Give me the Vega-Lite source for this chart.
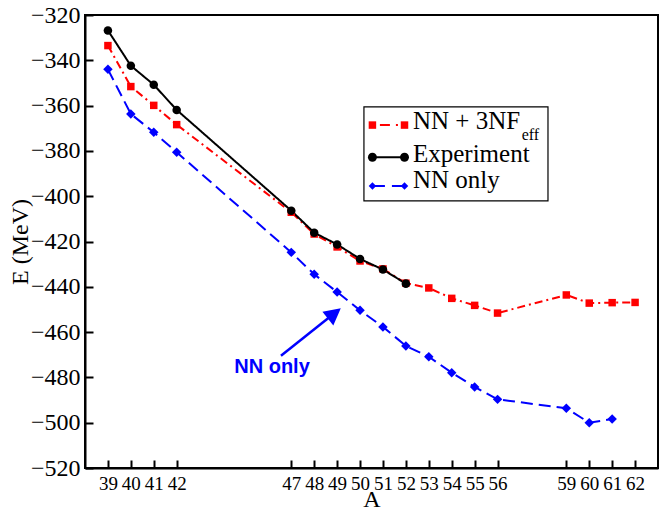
{
  "$schema": "https://vega.github.io/schema/vega-lite/v6.json",
  "width": 573,
  "height": 453,
  "autosize": {"type": "none"},
  "padding": {"left": 85, "top": 15, "right": 1, "bottom": 43},
  "background": "white",
  "config": {"view": {"stroke": null}},
  "data": {"values": [
    {"series": "NN only", "A": 39, "E": -344.0},
    {"series": "NN only", "A": 40, "E": -363.7},
    {"series": "NN only", "A": 41, "E": -371.8},
    {"series": "NN only", "A": 42, "E": -380.6},
    {"series": "NN only", "A": 47, "E": -424.8},
    {"series": "NN only", "A": 48, "E": -434.5},
    {"series": "NN only", "A": 49, "E": -442.3},
    {"series": "NN only", "A": 50, "E": -450.4},
    {"series": "NN only", "A": 51, "E": -457.7},
    {"series": "NN only", "A": 52, "E": -466.1},
    {"series": "NN only", "A": 53, "E": -470.9},
    {"series": "NN only", "A": 54, "E": -477.9},
    {"series": "NN only", "A": 55, "E": -484.2},
    {"series": "NN only", "A": 56, "E": -489.7},
    {"series": "NN only", "A": 59, "E": -493.6},
    {"series": "NN only", "A": 60, "E": -500.0},
    {"series": "NN only", "A": 61, "E": -498.4},
    {"series": "NN + 3NF", "A": 39, "E": -333.5},
    {"series": "NN + 3NF", "A": 40, "E": -351.6},
    {"series": "NN + 3NF", "A": 41, "E": -359.9},
    {"series": "NN + 3NF", "A": 42, "E": -368.4},
    {"series": "NN + 3NF", "A": 47, "E": -407.1},
    {"series": "NN + 3NF", "A": 48, "E": -416.7},
    {"series": "NN + 3NF", "A": 49, "E": -422.4},
    {"series": "NN + 3NF", "A": 50, "E": -428.6},
    {"series": "NN + 3NF", "A": 51, "E": -432.1},
    {"series": "NN + 3NF", "A": 52, "E": -438.4},
    {"series": "NN + 3NF", "A": 53, "E": -440.5},
    {"series": "NN + 3NF", "A": 54, "E": -445.1},
    {"series": "NN + 3NF", "A": 55, "E": -448.2},
    {"series": "NN + 3NF", "A": 56, "E": -451.6},
    {"series": "NN + 3NF", "A": 59, "E": -443.6},
    {"series": "NN + 3NF", "A": 60, "E": -447.2},
    {"series": "NN + 3NF", "A": 61, "E": -447.0},
    {"series": "NN + 3NF", "A": 62, "E": -446.9},
    {"series": "Experiment", "A": 39, "E": -326.8},
    {"series": "Experiment", "A": 40, "E": -342.4},
    {"series": "Experiment", "A": 41, "E": -350.8},
    {"series": "Experiment", "A": 42, "E": -361.9},
    {"series": "Experiment", "A": 47, "E": -406.4},
    {"series": "Experiment", "A": 48, "E": -416.1},
    {"series": "Experiment", "A": 49, "E": -421.3},
    {"series": "Experiment", "A": 50, "E": -427.7},
    {"series": "Experiment", "A": 51, "E": -432.4},
    {"series": "Experiment", "A": 52, "E": -438.6}
  ]},
  "resolve": {"axis": {"x": "independent", "y": "independent"}},
  "layer": [
    {
      "mark": {"type": "line", "strokeWidth": 2},
      "encoding": {
        "x": {"field": "A", "type": "quantitative",
          "scale": {"domain": [38, 63], "nice": false, "zero": false},
          "axis": {"orient": "bottom", "title": "A",
            "values": [39,40,41,42,47,48,49,50,51,52,53,54,55,56,59,60,61,62],
            "grid": false, "tickSize": -8, "tickWidth": 2, "tickColor": "black",
            "domainColor": "black", "domainWidth": 2,
            "labelFont": "Liberation Serif", "labelFontSize": 19, "labelColor": "black",
            "labelPadding": 14, "labelOverlap": false, "labelFlush": false, "labelBound": false,
            "titleFont": "Liberation Serif", "titleFontSize": 24, "titleFontWeight": "normal",
            "titleColor": "black", "titleY": 38, "titleBaseline": "alphabetic"}},
        "y": {"field": "E", "type": "quantitative",
          "scale": {"domain": [-520, -320], "nice": false, "zero": false},
          "axis": {"orient": "left", "title": "E (MeV)",
            "values": [-520, -500, -480, -460, -440, -420, -400, -380, -360, -340, -320],
            "format": "d",
            "tickSize": -8, "tickWidth": 2,
            "grid": false, "tickColor": "black",
            "domainColor": "black", "domainWidth": 2,
            "labelFont": "Liberation Serif", "labelFontSize": 24, "labelColor": "black",
            "labelPadding": 13, "labelOverlap": false, "labelFlush": false, "labelBound": false,
            "titleFont": "Liberation Serif", "titleFontSize": 24, "titleFontWeight": "normal",
            "titleColor": "black", "titleX": -58, "titleBaseline": "alphabetic"}},
        "stroke": {"field": "series", "type": "nominal",
          "scale": {"domain": ["NN + 3NF", "Experiment", "NN only"], "range": ["#ff0000", "#000000", "#0000ff"]},
          "legend": null},
        "strokeDash": {"field": "series", "type": "nominal",
          "scale": {"domain": ["NN + 3NF", "Experiment", "NN only"], "range": [[8, 4, 2, 4], [1, 0], [12, 6]]},
          "legend": null}
      }
    },
    {
      "mark": {"type": "point", "filled": true, "opacity": 1},
      "encoding": {
        "x": {"field": "A", "type": "quantitative", "axis": null},
        "y": {"field": "E", "type": "quantitative", "axis": null},
        "color": {"field": "series", "type": "nominal",
          "scale": {"domain": ["NN + 3NF", "Experiment", "NN only"], "range": ["#ff0000", "#000000", "#0000ff"]},
          "legend": null},
        "size": {"field": "series", "type": "nominal",
          "scale": {"domain": ["NN + 3NF", "Experiment", "NN only"], "range": [56, 90, 64]},
          "legend": null},
        "shape": {"field": "series", "type": "nominal",
          "scale": {"domain": ["NN + 3NF", "Experiment", "NN only"], "range": ["square", "circle", "diamond"]},
          "legend": null}
      }
    },
    {
      "data": {"values": [{}]},
      "mark": {"type": "rect", "fillOpacity": 0, "stroke": "black", "strokeWidth": 2},
      "encoding": {
        "x": {"datum": 38, "type": "quantitative", "axis": null},
        "x2": {"datum": 63},
        "y": {"datum": -520, "type": "quantitative", "axis": null},
        "y2": {"datum": -320}
      }
    },
    {
      "data": {"values": [{}]},
      "mark": {"type": "rect", "fill": "white", "stroke": "black", "strokeWidth": 1.2},
      "encoding": {
        "x": {"datum": 50.17, "type": "quantitative", "axis": null},
        "x2": {"datum": 58.2},
        "y": {"datum": -360.6, "type": "quantitative", "axis": null},
        "y2": {"datum": -402.1}
      }
    },
    {
      "data": {"values": [{}]},
      "mark": {"type": "rule", "color": "#ff0000", "strokeWidth": 2, "strokeDash": [0, 7.5, 10, 6, 2, 20]},
      "encoding": {
        "x": {"datum": 50.54, "type": "quantitative", "axis": null},
        "x2": {"datum": 51.94},
        "y": {"datum": -368.6, "type": "quantitative", "axis": null}
      }
    },
    {
      "data": {"values": [{}]},
      "mark": {"type": "rule", "color": "#000000", "strokeWidth": 2},
      "encoding": {
        "x": {"datum": 50.54, "type": "quantitative", "axis": null},
        "x2": {"datum": 51.94},
        "y": {"datum": -382.8, "type": "quantitative", "axis": null}
      }
    },
    {
      "data": {"values": [{}]},
      "mark": {"type": "rule", "color": "#0000ff", "strokeWidth": 2, "strokeDash": [12.5, 7, 20]},
      "encoding": {
        "x": {"datum": 50.54, "type": "quantitative", "axis": null},
        "x2": {"datum": 51.94},
        "y": {"datum": -395.5, "type": "quantitative", "axis": null}
      }
    },
    {
      "data": {"values": [{}]},
      "mark": {"type": "point", "shape": "square", "size": 56, "filled": true, "color": "#ff0000", "opacity": 1},
      "encoding": {
        "x": {"datum": 50.54, "type": "quantitative", "axis": null},
        "y": {"datum": -368.6, "type": "quantitative", "axis": null}
      }
    },
    {
      "data": {"values": [{}]},
      "mark": {"type": "point", "shape": "square", "size": 56, "filled": true, "color": "#ff0000", "opacity": 1},
      "encoding": {
        "x": {"datum": 51.94, "type": "quantitative", "axis": null},
        "y": {"datum": -368.6, "type": "quantitative", "axis": null}
      }
    },
    {
      "data": {"values": [{}]},
      "mark": {"type": "point", "shape": "circle", "size": 80, "filled": true, "color": "#000000", "opacity": 1},
      "encoding": {
        "x": {"datum": 50.54, "type": "quantitative", "axis": null},
        "y": {"datum": -382.8, "type": "quantitative", "axis": null}
      }
    },
    {
      "data": {"values": [{}]},
      "mark": {"type": "point", "shape": "circle", "size": 80, "filled": true, "color": "#000000", "opacity": 1},
      "encoding": {
        "x": {"datum": 51.94, "type": "quantitative", "axis": null},
        "y": {"datum": -382.8, "type": "quantitative", "axis": null}
      }
    },
    {
      "data": {"values": [{}]},
      "mark": {"type": "point", "shape": "diamond", "size": 56, "filled": true, "color": "#0000ff", "opacity": 1},
      "encoding": {
        "x": {"datum": 50.54, "type": "quantitative", "axis": null},
        "y": {"datum": -395.5, "type": "quantitative", "axis": null}
      }
    },
    {
      "data": {"values": [{}]},
      "mark": {"type": "point", "shape": "diamond", "size": 56, "filled": true, "color": "#0000ff", "opacity": 1},
      "encoding": {
        "x": {"datum": 51.94, "type": "quantitative", "axis": null},
        "y": {"datum": -395.5, "type": "quantitative", "axis": null}
      }
    },
    {
      "data": {"values": [{}]},
      "mark": {"type": "text", "text": "NN + 3NF", "font": "Liberation Serif", "fontSize": 25, "align": "left", "baseline": "alphabetic", "color": "#000000"},
      "encoding": {
        "x": {"datum": 52.31, "type": "quantitative", "axis": null},
        "y": {"datum": -370.3, "type": "quantitative", "axis": null}
      }
    },
    {
      "data": {"values": [{}]},
      "mark": {"type": "text", "text": "eff", "font": "Liberation Serif", "fontSize": 16, "align": "left", "baseline": "alphabetic", "color": "#000000"},
      "encoding": {
        "x": {"datum": 57.05, "type": "quantitative", "axis": null},
        "y": {"datum": -375.2, "type": "quantitative", "axis": null}
      }
    },
    {
      "data": {"values": [{}]},
      "mark": {"type": "text", "text": "Experiment", "font": "Liberation Serif", "fontSize": 25, "align": "left", "baseline": "alphabetic", "color": "#000000"},
      "encoding": {
        "x": {"datum": 52.31, "type": "quantitative", "axis": null},
        "y": {"datum": -384.8, "type": "quantitative", "axis": null}
      }
    },
    {
      "data": {"values": [{}]},
      "mark": {"type": "text", "text": "NN only", "font": "Liberation Serif", "fontSize": 25, "align": "left", "baseline": "alphabetic", "color": "#000000"},
      "encoding": {
        "x": {"datum": 52.31, "type": "quantitative", "axis": null},
        "y": {"datum": -396.5, "type": "quantitative", "axis": null}
      }
    },
    {
      "data": {"values": [{}]},
      "mark": {"type": "text", "text": "NN only", "font": "Liberation Sans", "fontSize": 20, "fontWeight": "bold", "color": "#0000ff", "align": "center", "baseline": "middle"},
      "encoding": {
        "x": {"datum": 46.16, "type": "quantitative", "axis": null},
        "y": {"datum": -475.4, "type": "quantitative", "axis": null}
      }
    },
    {
      "data": {"values": [{}]},
      "mark": {"type": "rule", "color": "#0000ff", "strokeWidth": 2.5},
      "encoding": {
        "x": {"datum": 46.55, "type": "quantitative", "axis": null},
        "y": {"datum": -470.4, "type": "quantitative", "axis": null},
        "x2": {"datum": 48.88},
        "y2": {"datum": -451.7}
      }
    },
    {
      "data": {"values": [{}]},
      "mark": {"type": "point", "shape": "M0,0L-0.53,1L0.53,1Z", "size": 1089, "filled": true, "color": "#0000ff", "opacity": 1, "angle": 51.5, "strokeWidth": 0},
      "encoding": {
        "x": {"datum": 49.16, "type": "quantitative", "axis": null},
        "y": {"datum": -449.5, "type": "quantitative", "axis": null}
      }
    }
  ]
}
